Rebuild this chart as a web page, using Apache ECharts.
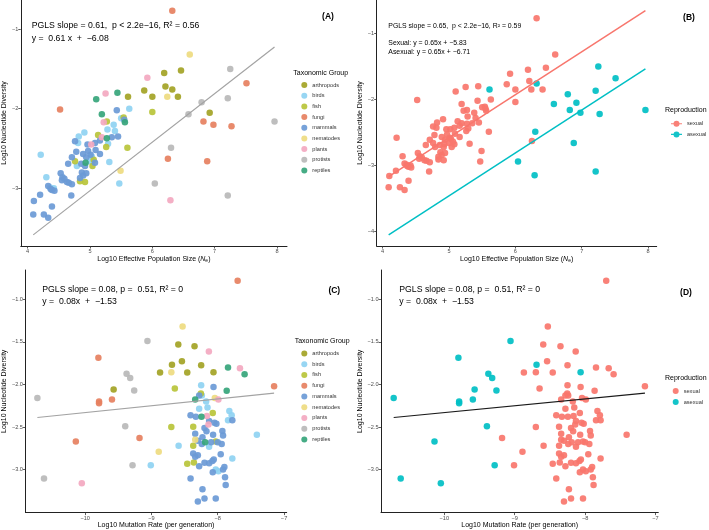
<!DOCTYPE html>
<html><head><meta charset="utf-8">
<script src="https://cdn.jsdelivr.net/npm/echarts@6/dist/echarts.min.js"></script>
<style>html,body{margin:0;padding:0;background:#fff}#c{width:709px;height:530px}</style>
</head><body><div id="c"></div>
<script>
// ---------- categories ----------
const taxa = ['arthropods','birds','fish','fungi','mammals','nematodes','plants','protists','reptiles'];
const taxonCodes = ['ar','bi','fi','fu','ma','ne','pl','pr','re'];
const taxaColors = ['#a3a325','#8fd3f2','#b9c43a','#e6805f','#6b9ad6','#eedb80','#f3a8c0','#b9b9b9','#36a57b'];
const reproLevels = ['sexual','asexual'];
const reproCodes = ['s','a'];
const reproColors = ['#F8766D','#00BFC4'];

// ---------- panels A/B : Log10 Ne vs Log10 diversity ----------
const neX = [6.32,6.60,7.25,7.51,5.92,6.19,6.46,5.87,6.21,6.32,6.24,6.41,6.00,5.61,6.00,6.92,6.79,7.21,6.58,7.96,6.82,6.98,7.27,6.30,6.25,6.88,6.04,7.21,6.29,4.52,
 5.10,5.25,5.44,5.43,5.63,5.19,5.50,5.54,5.56,5.27,5.22,5.28,5.38,5.40,5.35,5.45,5.13,5.19,5.27,5.29,5.26,5.60,5.31,5.49,5.47,5.55,
 4.21,4.82,4.91,4.76,4.81,4.96,5.02,5.08,5.16,4.78,4.71,4.65,4.89,4.97,5.01,5.03,4.94,5.16,5.09,5.06,4.86,4.79,4.76,4.93,4.92,4.87,4.89,4.92,4.84,4.84,4.94,4.53,4.56,4.55,4.63,4.66,4.59,4.71,4.30,4.33,4.37,4.36,4.39,4.42,4.43,4.20,4.10,4.70,4.39,4.09,4.26,4.33,5.04,5.08,5.00];
const neY = [-0.77,-1.32,-1.50,-1.68,-1.61,-1.55,-1.52,-1.77,-1.72,-1.76,-1.85,-1.85,-1.85,-1.85,-2.04,-2.05,-1.92,-1.87,-2.07,-2.16,-2.16,-2.20,-2.22,-2.49,-2.63,-2.66,-2.94,-3.09,-3.15,-2.01,
 -1.88,-1.81,-1.80,-2.02,-2.00,-2.07,-2.12,-2.11,-2.17,-2.16,-2.17,-2.26,-2.20,-2.28,-2.36,-2.35,-2.33,-2.36,-2.37,-2.44,-2.48,-2.49,-2.67,-2.78,-2.94,-2.14,
 -2.58,-2.35,-2.30,-2.41,-2.43,-2.45,-2.45,-2.43,-2.40,-2.54,-2.61,-2.69,-2.57,-2.53,-2.58,-2.60,-2.61,-2.57,-2.52,-2.64,-2.69,-2.72,-2.66,-2.68,-2.72,-2.80,-2.84,-2.92,-2.91,-2.87,-2.81,-2.81,-2.86,-2.90,-2.92,-2.93,-2.88,-2.95,-2.86,-2.97,-3.01,-2.99,-3.02,-3.00,-3.03,-3.08,-3.16,-3.09,-3.23,-3.33,-3.33,-3.37,-2.72,-2.68,-2.66];
const neTaxon = ['fu','ne','pr','fu','pl','ar','ar','ar','ar','ar','ne','ar','ar','ar','fi','ar','pr','pr','pr','pr','fu','fu','fu','pr','fu','fu','pr','pr','pl','fu',
 're','pl','re','ma','bi','re','bi','fi','re','fi','pl','bi','bi','bi','ma','ma','fi','pl','re','bi','fi','fi','bi','ne','bi','ma',
 'bi','bi','bi','ma','bi','ma','pl','ma','ma','ma','ma','ma','ma','ma','ma','bi','ma','ma','ma','fi','ma','bi','fi','re','ma','ma','ma','fi','fi','ma','ma','ma','ma','ma','ma','ma','ma','ma','bi','ma','ma','bi','ma','bi','ma','ma','ma','ma','ma','ma','ma','ma','fi','ma','bi'];
const neRepro = ['s','s','a','a','s','s','s','s','s','a','s','s','s','a','s','a','a','a','a','a','a','a','a','a','s','a','a','a','a','s'];
// remaining Ne points are all sexual
const neFitAll = [[4.09,-3.585],[7.96,-1.224]];
const neFitSexual = [[4.09,-3.171],[7.96,-0.656]];
const neFitAsexual = [[4.09,-4.051],[7.96,-1.536]];

// ---------- panels C/D : Log10 mutation rate vs Log10 diversity ----------
const muX = [-7.70,-10.72,-10.62,-10.05,-10.14,-9.80,-9.79,-9.79,-9.595,-9.57,-9.375,-9.32,-9.26,-9.395,-9.285,-9.18,-9.06,-9.01,-8.89,-8.87,
 -8.70,-8.69,-8.647,-8.70,-8.59,-8.595,-8.53,-8.54,-8.46,-8.46,-8.35,-8.25,-8.064,-8.134,-7.845,-7.665,-7.595,-7.15,-7.865,-7.41,
 -7.78,-8.25,-8.064,-8.254,-8.24,-8.28,-8.34,-8.044,-7.99,-8.175,-8.28,-8.154,-8.075,-7.825,-8.41,-8.33,-8.245,-8.164,-7.79,-8.13,
 -8.05,-7.845,-7.78,-8.37,-8.20,-8.14,-8.02,-8.17,-8.34,-8.23,-8.07,-7.93,-7.92,-8.34,-8.37,-8.30,-8.19,-8.24,-8.13,-8.10,
 -8.03,-8.00,-7.94,-8.37,-8.30,-8.34,-7.955,-8.36,-8.28,-8.20,-8.13,-8.08,-8.06,-8.075,-8.03,-7.99,-7.92,-7.90,-8.41,-7.89,
 -7.88,-8.23,-8.20,-8.03,-8.30];
const muY = [-0.78,-2.16,-3.105,-3.16,-2.67,-1.685,-2.20,-2.22,-2.175,-2.06,-1.875,-1.925,-2.07,-2.49,-2.95,-2.63,-1.49,-2.95,-2.79,-1.86,
 -1.856,-1.767,-2.047,-2.50,-2.72,-1.53,-1.32,-1.728,-1.86,-2.93,-1.55,-1.775,-1.856,-1.611,-1.80,-1.81,-1.88,-2.02,-2.075,-2.59,
 -2.87,-2.01,-2.03,-2.105,-2.13,-2.13,-2.175,-2.16,-2.175,-2.20,-2.285,-2.27,-2.335,-2.31,-2.36,-2.38,-2.38,-2.37,-2.36,-2.43,
 -2.45,-2.42,-2.42,-2.495,-2.51,-2.47,-2.46,-2.55,-2.58,-2.62,-2.59,-2.545,-2.60,-2.65,-2.72,-2.66,-2.68,-2.70,-2.73,-2.68,
 -2.67,-2.68,-2.70,-2.81,-2.83,-2.85,-2.82,-2.915,-2.96,-2.92,-2.925,-2.90,-2.88,-3.03,-3.00,-3.02,-3.00,-2.97,-3.105,-3.09,
 -3.18,-3.23,-3.34,-3.34,-3.375];
const muTaxon = ['fu','pr','pr','pl','fu','fu','fu','fu','fu','ar','pr','pr','pr','pr','pr','fu','pr','bi','ne','ar',
 'ne','ar','fi','fi','bi','ar','ne','ar','ar','fi','ar','ar','ar','pl','re','pl','re','fu','re','bi',
 'bi','bi','ma','fi','bi','ma','re','ne','pl','bi','bi','bi','fi','bi','ma','ma','re','pl','bi','ma',
 'ma','bi','ma','fi','ma','pl','ma','ma','ma','ma','ma','ma','ma','ne','fi','ma','re','ma','bi','ma',
 'fi','ma','ma','ma','ma','ma','ma','fi','ma','ma','ma','ma','ma','ma','bi','bi','ma','ma','ma','ma',
 'ma','ma','ma','ma','ma'];
const muRepro = ['s','a','a','a','a','a','a','a','a','a','a','a','a','a','a','s','a','s','s','s',
 's','a','s','s','s','s','s','s','s','s','s','s','a'];
// remaining mutation-rate points are all sexual
const muFit = [[-10.72,-2.388],[-7.15,-2.102]];

// ---------- tick labels ----------
const neTicks = [4,5,6,7,8];
const divTicksA = [-3,-2,-1];
const divTicksB = [-4,-3,-2,-1];
const muTicks = [-10,-9,-8,-7];
const divTicksC = [-3,-2.5,-2,-1.5,-1];

// ---------- helpers ----------
const FONT = '"Liberation Sans", Arial, Helvetica, sans-serif';
function pick(xs, ys, test){ const out=[]; for(let i=0;i<xs.length;i++){ if(test(i)) out.push([xs[i],ys[i]]); } return out; }
const reproOf = (arr,i) => arr[i] || 's';
const minus = v => (v<0?'\u2212':'') + Math.abs(v);
const minus1 = v => (v<0?'\u2212':'') + Math.abs(v).toFixed(1);

function xAxis(idx, min, max, ticks, name, gap, fmt){
  return {type:'value', gridIndex:idx, min, max, name, nameLocation:'middle', nameGap:gap,
    nameTextStyle:{fontSize:7, color:'#000', fontFamily:FONT,
      rich:{t:{fontSize:7,color:'#000',fontFamily:FONT}, n:{fontSize:7,fontStyle:'italic',color:'#000',fontFamily:FONT}, s:{fontSize:5,color:'#000',fontFamily:FONT,padding:[4,0,0,0]}}},
    axisLine:{show:true,onZero:false,lineStyle:{color:'#222',width:1}},
    axisTick:{show:true,length:2.5,customValues:ticks,lineStyle:{color:'#333',width:0.8}},
    axisLabel:{customValues:ticks,fontSize:5.6,color:'#4d4d4d',margin:2.5,fontFamily:FONT,formatter:fmt},
    splitLine:{show:false}};
}
function yAxis(idx, min, max, ticks, gap, fmt){
  return {type:'value', gridIndex:idx, min, max, name:'Log10 Nucleotide Diversity', nameLocation:'middle', nameGap:gap,
    nameTextStyle:{fontSize:7,color:'#000',fontFamily:FONT},
    axisLine:{show:true,onZero:false,lineStyle:{color:'#222',width:1}},
    axisTick:{show:true,length:2.5,customValues:ticks,lineStyle:{color:'#333',width:0.8}},
    axisLabel:{customValues:ticks,fontSize:5.6,color:'#4d4d4d',margin:2.5,fontFamily:FONT,formatter:fmt},
    splitLine:{show:false}};
}
const neName = '{t|Log10 Effective Population Size (}{n|N}{s|e}{t|)}';
const muName = 'Log10 Mutation Rate (per generation)';

const series = [];
// A
taxa.forEach((t,k)=>series.push({type:'scatter',name:t,xAxisIndex:0,yAxisIndex:0,symbolSize:6.5,
  itemStyle:{color:taxaColors[k],opacity:0.92},data:pick(neX,neY,i=>neTaxon[i]===taxonCodes[k])}));
series.push({type:'line',xAxisIndex:0,yAxisIndex:0,data:neFitAll,showSymbol:false,symbol:'none',silent:true,z:3,
  lineStyle:{color:'#a3a3a3',width:1.2}});
// B
reproLevels.forEach((r,k)=>series.push({type:'scatter',name:r,xAxisIndex:1,yAxisIndex:1,symbolSize:6.5,
  itemStyle:{color:reproColors[k],opacity:0.92},data:pick(neX,neY,i=>reproOf(neRepro,i)===reproCodes[k])}));
series.push({type:'line',xAxisIndex:1,yAxisIndex:1,data:neFitSexual,symbol:'none',silent:true,z:3,lineStyle:{color:reproColors[0],width:1.5}});
series.push({type:'line',xAxisIndex:1,yAxisIndex:1,data:neFitAsexual,symbol:'none',silent:true,z:3,lineStyle:{color:reproColors[1],width:1.5}});
// C
taxa.forEach((t,k)=>series.push({type:'scatter',name:t,xAxisIndex:2,yAxisIndex:2,symbolSize:6.5,
  itemStyle:{color:taxaColors[k],opacity:0.92},data:pick(muX,muY,i=>muTaxon[i]===taxonCodes[k])}));
series.push({type:'line',xAxisIndex:2,yAxisIndex:2,data:muFit,symbol:'none',silent:true,z:3,lineStyle:{color:'#a3a3a3',width:1.2}});
// D
reproLevels.forEach((r,k)=>series.push({type:'scatter',name:r,xAxisIndex:3,yAxisIndex:3,symbolSize:6.5,
  itemStyle:{color:reproColors[k],opacity:0.92},data:pick(muX,muY,i=>reproOf(muRepro,i)===reproCodes[k])}));
series.push({type:'line',xAxisIndex:3,yAxisIndex:3,data:muFit,symbol:'none',silent:true,z:3,lineStyle:{color:'#1a1a1a',width:1.2}});

function txt(x,y,text,size,opts){ return Object.assign({type:'text',x,y,silent:true,
  style:Object.assign({text,font:size+'px '+FONT,fill:'#000',verticalAlign:'middle',align:'left'},opts||{})}); }

const legendText = {fontSize:5.6,color:'#333',fontFamily:FONT};
const option = {
  animation:false,
  backgroundColor:'#fff',
  textStyle:{fontFamily:FONT},
  grid:[
    {left:18,top:0,width:269,height:246},
    {left:376.7,top:0,width:280,height:246},
    {left:23.3,top:270,width:263.4,height:243.3},
    {left:381,top:270,width:277.3,height:244}
  ],
  xAxis:[
    xAxis(0,3.89,8.16,neTicks,neName,8,minus),
    xAxis(1,3.91,8.13,neTicks,neName,8,minus),
    xAxis(2,-10.9,-6.96,muTicks,muName,8,minus),
    xAxis(3,-10.9,-6.96,muTicks,muName,8,minus)
  ],
  yAxis:[
    yAxis(0,-3.725,-0.634,divTicksA,10.5,minus),
    yAxis(1,-4.22,-0.494,divTicksB,12,minus),
    yAxis(2,-3.505,-0.655,divTicksC,16,minus1),
    yAxis(3,-3.505,-0.655,divTicksC,17.5,minus1)
  ],
  legend:[
    {data:taxa,orient:'vertical',left:296.3,top:74.7,itemWidth:6,itemHeight:6,itemGap:0,icon:'circle',selectedMode:false,
      textStyle:Object.assign({lineHeight:10.67},legendText)},
    {data:reproLevels,orient:'vertical',left:666,top:113.4,itemWidth:11,itemHeight:6,itemGap:0,selectedMode:false,
      icon:'path://M0,2.4L11,2.4L11,3.6L0,3.6Z M8.5,3A3,3,0,1,1,2.5,3A3,3,0,1,1,8.5,3Z',
      textStyle:Object.assign({lineHeight:10.67},legendText)},
    {data:taxa,orient:'vertical',left:296.3,top:343,itemWidth:6,itemHeight:6,itemGap:0,icon:'circle',selectedMode:false,
      textStyle:Object.assign({lineHeight:10.75},legendText)},
    {data:reproLevels,orient:'vertical',left:667.7,top:380.6,itemWidth:6,itemHeight:6,itemGap:0,icon:'circle',selectedMode:false,
      textStyle:Object.assign({lineHeight:11},legendText)}
  ],
  graphic:[
    txt(31.7,26,'PGLS slope = 0.61,  p < 2.2e\u221216, R\u00b2 = 0.56',8.7),
    txt(31.7,39,'y =  0.61 x  +  \u22126.08',8.7),
    txt(328,17,'(A)',8.5,{font:'bold 8.5px '+FONT,align:'center'}),
    txt(293.3,72.7,'Taxonomic Group',7),
    txt(388.3,26,'PGLS slope = 0.65,  p < 2.2e\u221216, R\u00b2 = 0.59',6.9),
    txt(388.3,43.3,'Sexual: y = 0.65x + \u22125.83',6.9),
    txt(388.3,52.3,'Asexual: y = 0.65x + \u22126.71',6.9),
    txt(689,17.3,'(B)',8.5,{font:'bold 8.5px '+FONT,align:'center'}),
    txt(665,110,'Reproduction',7),
    txt(42.3,289.3,'PGLS slope = 0.08, p =  0.51, R\u00b2 = 0',8.7),
    txt(42.3,301.7,'y =  0.08x  +  \u22121.53',8.7),
    txt(334.3,290.7,'(C)',8.5,{font:'bold 8.5px '+FONT,align:'center'}),
    txt(294.7,341.3,'Taxonomic Group',7),
    txt(399.3,289.3,'PGLS slope = 0.08, p =  0.51, R\u00b2 = 0',8.7),
    txt(399.3,301.7,'y =  0.08x  +  \u22121.53',8.7),
    txt(686,293,'(D)',8.5,{font:'bold 8.5px '+FONT,align:'center'}),
    txt(665,378.3,'Reproduction',7)
  ],
  series
};
const chart = echarts.init(document.getElementById('c'),null,{renderer:'canvas'});
chart.setOption(option);
</script></body></html>
